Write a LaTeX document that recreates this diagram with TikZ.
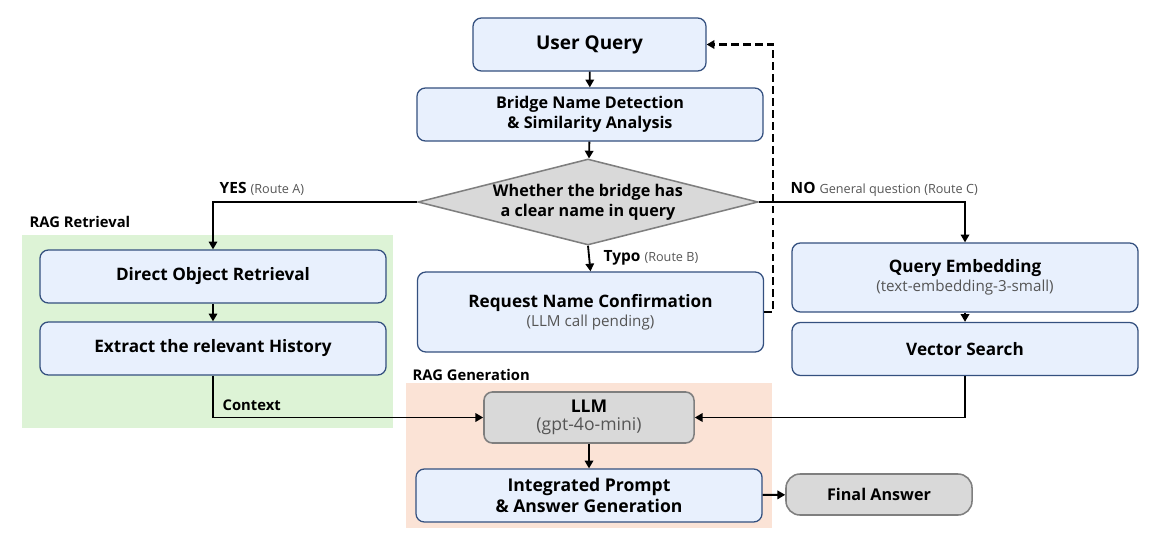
\documentclass[tikz,border=0pt]{standalone}
\usepackage{fontspec}
\setmainfont{Open Sans}
\usetikzlibrary{shapes.geometric, arrows.meta, positioning, calc}
\definecolor{boxfill}{HTML}{E8F0FD}
\definecolor{boxline}{HTML}{34507F}
\definecolor{greyfill}{HTML}{D9D9D9}
\definecolor{greyline}{HTML}{7F7F7F}
\definecolor{retrbg}{HTML}{DDF3D6}
\definecolor{genbg}{HTML}{FBE3D6}
\definecolor{subgrey}{HTML}{555555}
\newcommand{\subtxt}{\fontsize{10.8}{12}\selectfont\mdseries\color{subgrey}}
\newcommand{\routetxt}{\fontsize{9}{10}\selectfont\mdseries\color{subgrey}}

\begin{document}
\begin{tikzpicture}[x=0.025cm, y=-0.025cm,
  proc/.style={draw=boxline, line width=0.9pt, rectangle, rounded corners=6pt, fill=boxfill, align=center, minimum width=8.65cm, minimum height=1.325cm, font=\fontsize{12.2}{14.5}\selectfont\bfseries},
  greybox/.style={draw=greyline, line width=1.1pt, rectangle, rounded corners=6pt, fill=greyfill, align=center, font=\fontsize{11.5}{14}\selectfont\bfseries},
  lbl/.style={font=\fontsize{10.5}{12}\selectfont\bfseries, inner sep=1pt},
  flow/.style={line width=1.3pt, -{Triangle[length=5.5pt, width=6pt]}}
]
\useasboundingbox (0,0) rectangle (1156,547);

% ---- Background groups ----
\fill[retrbg] (22,235) rectangle (393,428);
\node[lbl, anchor=west] (retrlbl) at (28,222) {RAG Retrieval};
\fill[genbg] (406,383) rectangle (772,528);
\node[lbl, anchor=west] (genlbl) at (411,375) {RAG Generation};

% ---- Main path ----
\node[proc, minimum width=5.825cm, font=\fontsize{13.5}{16}\selectfont\bfseries] (query) at (589.5,44.5) {User Query};
\node[proc, font=\fontsize{11.5}{14}\selectfont\bfseries] (detect) at (590,114.5) {Bridge Name Detection\\ \& Similarity Analysis};
\node[diamond, draw=greyline, line width=1.1pt, fill=greyfill, aspect=3.95, inner sep=0pt, minimum width=8.5cm, minimum height=2.15cm, align=center, font=\fontsize{11.5}{14}\selectfont\bfseries] (decide) at (588,202) {Whether the bridge has\\ a clear name in query};

% ---- Route A ----
\node[proc] (direct) at (213,276.5) {Direct Object Retrieval};
\node[proc] (history) at (213,348.5) {Extract the relevant History};

% ---- Route B ----
\node[proc, minimum height=2cm] (confirm) at (590.5,312) {Request Name Confirmation\\[-1pt] {\subtxt (LLM call pending)}};

% ---- Route C ----
\node[proc, minimum height=1.725cm] (embed) at (965,277.5) {Query Embedding\\[-1pt] {\subtxt (text-embedding-3-small)}};
\node[proc] (vector) at (965,349) {Vector Search};

% ---- Generation ----
\node[greybox, minimum width=5.25cm, minimum height=1.275cm, font=\fontsize{12.5}{15}\selectfont\bfseries] (llm) at (589,417.5) {LLM\\[-2pt] {\fontsize{12.5}{14}\selectfont\mdseries\color{subgrey}(gpt-4o-mini)}};
\node[proc, font=\fontsize{12.5}{15}\selectfont\bfseries] (answer) at (589,495.5) {Integrated Prompt\\ \& Answer Generation};
\node[greybox, rounded corners=10pt, minimum width=4.65cm, minimum height=1.025cm] (final) at (879,494.5) {Final Answer};

% ---- Labels ----
\node[lbl, font=\fontsize{11}{12}\selectfont\bfseries, anchor=west] (yeslbl) at (218,189) {YES {\routetxt (Route A)}};
\node[lbl, font=\fontsize{11}{12}\selectfont\bfseries, anchor=west] (nolbl) at (789,189) {NO {\routetxt General question (Route C)}};
\node[lbl, font=\fontsize{11}{12}\selectfont\bfseries, anchor=west] (typolbl) at (602,258) {Typo {\routetxt (Route B)}};
\node[lbl, anchor=west] (ctxlbl) at (221,405) {Context};

% ---- Connectors ----
\draw[flow] (query) -- (detect);
\draw[flow] (detect) -- (decide);
\draw[flow] (decide.west) -| (direct.north);
\draw[flow] (decide.south) -- (confirm.north);
\draw[flow] (decide.east) -| (embed.north);
\draw[flow] (direct) -- (history);
\draw[flow] (embed) -- (vector);
\draw[flow] (history.south) |- (llm.west);
\draw[flow] (vector.south) |- (llm.east);
\draw[flow] (llm) -- (answer);
\draw[flow] (answer) -- (final);
\draw[flow, line width=1.5pt, dash pattern=on 5.5pt off 3pt] (confirm.east) -- ++(9,0) |- (query.east);

\end{tikzpicture}
\end{document}
